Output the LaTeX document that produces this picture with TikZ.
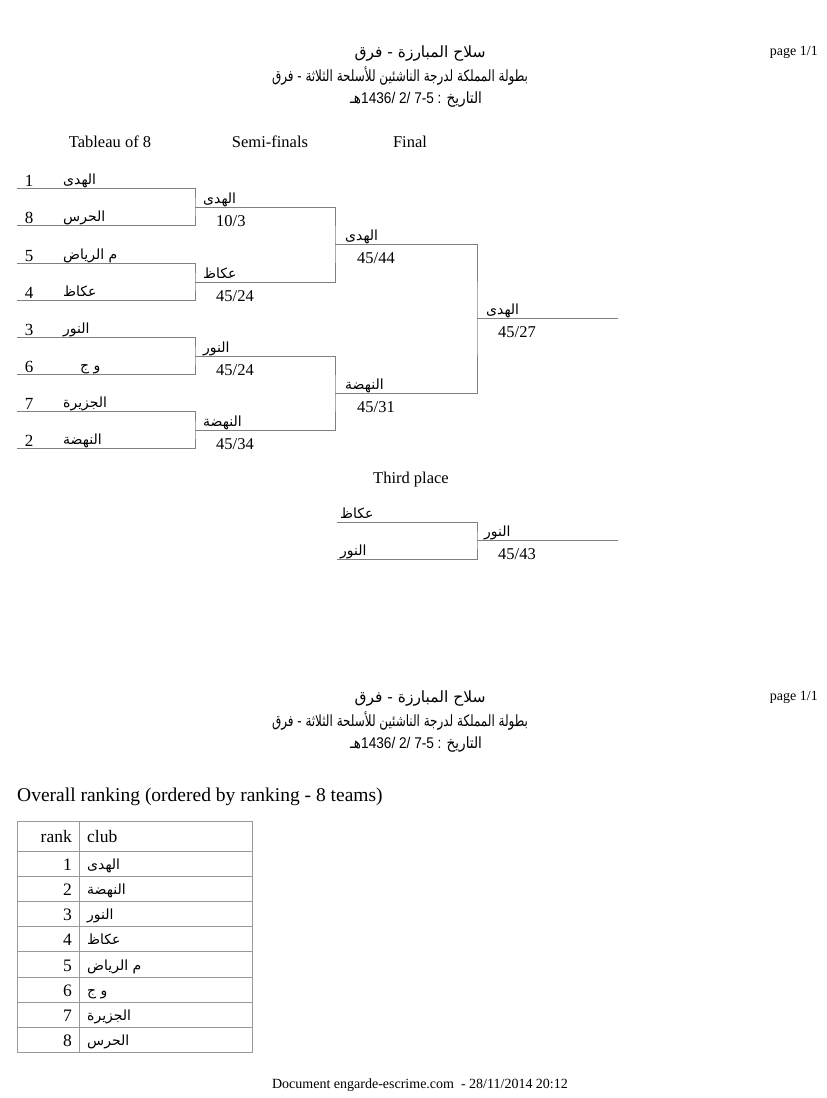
\documentclass[tikz,border=0pt]{standalone}
\usepackage{graphicx}
\usepackage{fontspec}
\setmainfont{Liberation Serif}
\newfontfamily\arabicfont[Script=Arabic]{DejaVu Sans}
\newfontfamily\hdrsans{Liberation Sans}
\TeXXeTstate=1
\usetikzlibrary{positioning}
\newcommand\fsz[1]{\fontsize{#1}{#1}\selectfont}
\newcommand\artext[1]{{\arabicfont\beginR #1\endR}}
\tikzset{
  bline/.style={draw=black!50, line width=0.8pt},
  tline/.style={draw=black!40, line width=0.8pt},
  heading/.style={font=\fsz{16.5}, inner sep=0pt, anchor=base},
  seed/.style={font=\fsz{17}, inner sep=0pt, anchor=base},
  club/.style={font=\fsz{14}, inner sep=0pt, anchor=base west},
  score/.style={font=\fsz{16.5}, inner sep=0pt, anchor=base west},
  hdr/.style={font=\arabicfont\fsz{15.5}, inner sep=0pt, anchor=base},
  pagelbl/.style={font=\fsz{14}, inner sep=0pt, anchor=base east},
  rankno/.style={font=\fsz{17.5}, inner sep=0pt, anchor=base east},
  rankclub/.style={font=\fsz{14}, inner sep=0pt, anchor=base west}
}

\begin{document}
\begin{tikzpicture}[x=1pt, y=-1pt]
  \useasboundingbox[fill=white] (0,0) rectangle (827,1098);

  % page header
  \node[pagelbl] (page1) at (818,55) {page 1/1};
  \node[hdr] (title1) at (420,57) {\resizebox{131pt}{\height}{\artext{سلاح المبارزة - فرق}}};
  \node[hdr] (event1) at (400,81) {\resizebox{256pt}{\height}{\artext{بطولة المملكة لدرجة الناشئين للأسلحة الثلاثة - فرق}}};
  \node[hdr] (date1) at (416,103) {\resizebox{132pt}{\height}{\artext{هـ}{\hdrsans 1436/ 2/ 7-5 : }\artext{التاريخ}}};

  % round headings
  \node[heading] (hround1) at (110,147) {Tableau of 8};
  \node[heading] (hround2) at (270,147) {Semi-finals};
  \node[heading] (hround3) at (410,147) {Final};

  % bracket slots
  \coordinate (q1) at (17,188);
  \coordinate (q2) at (17,225);
  \coordinate (q3) at (17,263);
  \coordinate (q4) at (17,300);
  \coordinate (q5) at (17,337);
  \coordinate (q6) at (17,374);
  \coordinate (q7) at (17,411);
  \coordinate (q8) at (17,448);
  \coordinate (s1) at (195,207);
  \coordinate (s2) at (195,282);
  \coordinate (s3) at (195,356);
  \coordinate (s4) at (195,430);
  \coordinate (f1) at (335,244);
  \coordinate (f2) at (335,393);
  \coordinate (w) at (477,318);
  \coordinate (wend) at (618,318);

  \draw[bline] (q1) -| (s1) |- (q2);
  \draw[bline] (q3) -| (s2) |- (q4);
  \draw[bline] (q5) -| (s3) |- (q6);
  \draw[bline] (q7) -| (s4) |- (q8);
  \draw[bline] (s1) -| (f1) |- (s2);
  \draw[bline] (s3) -| (f2) |- (s4);
  \draw[bline] (f1) -| (w) |- (f2);
  \draw[bline] (w) -- (wend);

  % tableau of 8
  \node[seed] (seed1) at (29,186) {1};
  \node[club] (club1) at (63,184) {\artext{الهدى}};
  \node[seed] (seed8) at (29,223) {8};
  \node[club] (club8) at (63,221) {\artext{الحرس}};
  \node[seed] (seed5) at (29,261) {5};
  \node[club] (club5) at (63,259) {\artext{م الرياض}};
  \node[seed] (seed4) at (29,298) {4};
  \node[club] (club4) at (63,296) {\artext{عكاظ}};
  \node[seed] (seed3) at (29,335) {3};
  \node[club] (club3) at (63,333) {\artext{النور}};
  \node[seed] (seed6) at (29,372) {6};
  \node[club] (club6) at (80,370) {\artext{و ج}};
  \node[seed] (seed7) at (29,409) {7};
  \node[club] (club7) at (63,407) {\artext{الجزيرة}};
  \node[seed] (seed2) at (29,446) {2};
  \node[club] (club2) at (63,444) {\artext{النهضة}};

  % semi-finals
  \node[club] (semi1) at (203,203) {\artext{الهدى}};
  \node[score] (sc1) at (216,226) {10/3};
  \node[club] (semi2) at (203,278) {\artext{عكاظ}};
  \node[score] (sc2) at (216,301) {45/24};
  \node[club] (semi3) at (203,352) {\artext{النور}};
  \node[score] (sc3) at (216,375) {45/24};
  \node[club] (semi4) at (203,426) {\artext{النهضة}};
  \node[score] (sc4) at (216,449) {45/34};

  % final
  \node[club] (fin1) at (345,240) {\artext{الهدى}};
  \node[score] (fsc1) at (357,263) {45/44};
  \node[club] (fin2) at (345,389) {\artext{النهضة}};
  \node[score] (fsc2) at (357,412) {45/31};
  \node[club] (champ) at (486,314) {\artext{الهدى}};
  \node[score] (champsc) at (498,337) {45/27};

  % third place
  \node[heading] (hthird) at (411,483) {Third place};
  \coordinate (t1) at (337,522);
  \coordinate (t2) at (337,559);
  \coordinate (tw) at (477,540);
  \coordinate (twend) at (618,540);
  \draw[bline] (t1) -| (tw) |- (t2);
  \draw[bline] (tw) -- (twend);
  \node[club] (third1) at (340,518) {\artext{عكاظ}};
  \node[club] (third2) at (340,555) {\artext{النور}};
  \node[club] (thirdw) at (484,536) {\artext{النور}};
  \node[score] (thirdsc) at (498,559) {45/43};

  % second page header
  \node[pagelbl] (page2) at (818,700) {page 1/1};
  \node[hdr] (title2) at (420,702) {\resizebox{131pt}{\height}{\artext{سلاح المبارزة - فرق}}};
  \node[hdr] (event2) at (400,726) {\resizebox{256pt}{\height}{\artext{بطولة المملكة لدرجة الناشئين للأسلحة الثلاثة - فرق}}};
  \node[hdr] (date2) at (416,748) {\resizebox{132pt}{\height}{\artext{هـ}{\hdrsans 1436/ 2/ 7-5 : }\artext{التاريخ}}};

  % overall ranking
  \node[font=\fsz{19.5}, inner sep=0pt, anchor=base west] (ranktitle) at (17,801)
    {Overall ranking (ordered by ranking - 8 teams)};
  \draw[tline] (17,821) rectangle (252,1052);
  \draw[tline] (79,821) -- (79,1052);
  \draw[tline] (17,851) -- (252,851);
  \draw[tline] (17,876) -- (252,876);
  \draw[tline] (17,901) -- (252,901);
  \draw[tline] (17,926) -- (252,926);
  \draw[tline] (17,951) -- (252,951);
  \draw[tline] (17,977) -- (252,977);
  \draw[tline] (17,1002) -- (252,1002);
  \draw[tline] (17,1027) -- (252,1027);
  \node[rankno] (rankhd) at (72,842) {rank};
  \node[rankno, anchor=base west] (clubhd) at (87,842) {club};
  \node[rankno] (rk1) at (72,870) {1};
  \node[rankclub] (cl1) at (87,869) {\artext{الهدى}};
  \node[rankno] (rk2) at (72,895) {2};
  \node[rankclub] (cl2) at (87,894) {\artext{النهضة}};
  \node[rankno] (rk3) at (72,920) {3};
  \node[rankclub] (cl3) at (87,919) {\artext{النور}};
  \node[rankno] (rk4) at (72,945) {4};
  \node[rankclub] (cl4) at (87,944) {\artext{عكاظ}};
  \node[rankno] (rk5) at (72,971) {5};
  \node[rankclub] (cl5) at (87,970) {\artext{م الرياض}};
  \node[rankno] (rk6) at (72,996) {6};
  \node[rankclub] (cl6) at (87,995) {\artext{و ج}};
  \node[rankno] (rk7) at (72,1021) {7};
  \node[rankclub] (cl7) at (87,1020) {\artext{الجزيرة}};
  \node[rankno] (rk8) at (72,1046) {8};
  \node[rankclub] (cl8) at (87,1045) {\artext{الحرس}};

  % footer
  \node[font=\fsz{14}, inner sep=0pt, anchor=base] (footer) at (420,1088)
    {Document engarde-escrime.com\ \ - 28/11/2014 20:12};
\end{tikzpicture}
\end{document}
